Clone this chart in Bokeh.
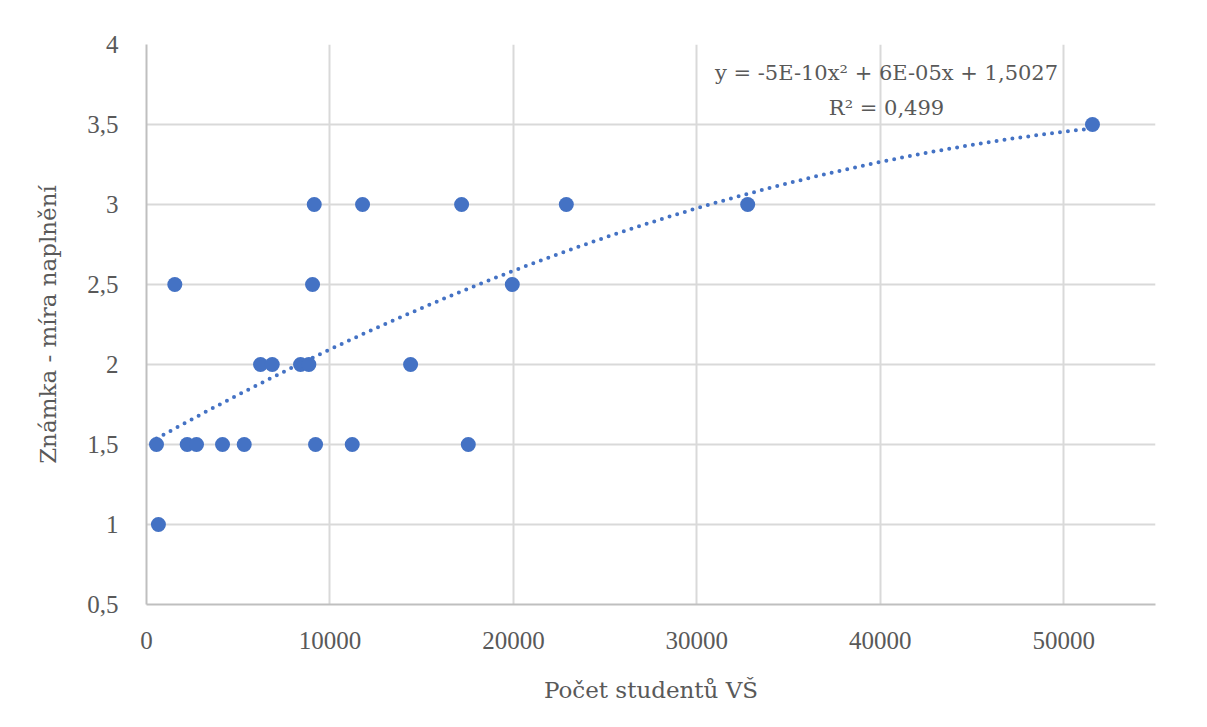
import numpy as np
from bokeh.plotting import figure
from bokeh.models import Range1d, FixedTicker, Label
from bokeh.embed import file_html
from bokeh.resources import INLINE

# --- data ---
students = [545, 2218, 2726, 4144, 5327, 9215, 11215, 17541,
            650,
            6216, 6854, 8397, 8850, 14395,
            9144, 11777, 17176, 22884, 32770,
            1543, 9051, 19940,
            51565]
grade = [1.5, 1.5, 1.5, 1.5, 1.5, 1.5, 1.5, 1.5,
         1.0,
         2.0, 2.0, 2.0, 2.0, 2.0,
         3.0, 3.0, 3.0, 3.0, 3.0,
         2.5, 2.5, 2.5,
         3.5]
x_ticks = [0, 10000, 20000, 30000, 40000, 50000]
x_tick_labels = ["0", "10000", "20000", "30000", "40000", "50000"]
y_ticks = [0.5, 1.0, 1.5, 2.0, 2.5, 3.0, 3.5, 4.0]
y_tick_labels = ["0,5", "1", "1,5", "2", "2,5", "3", "3,5", "4"]
x_title = "Počet studentů VŠ"
y_title = "Známka - míra naplnění"
eq_text = "y = -5E-10x² + 6E-05x + 1,5027"
r2_text = "R² = 0,499"

FONT = "DejaVu Serif"
TICK_FONT = "Liberation Serif"
TXT = "#595959"

p = figure(frame_width=1009, frame_height=560,
           min_border_left=146, min_border_right=44,
           min_border_top=44, min_border_bottom=115,
           x_range=Range1d(0, 55000), y_range=Range1d(0.5, 4),
           output_backend="svg", toolbar_location=None)
p.outline_line_color = None
p.background_fill_color = "white"
p.border_fill_color = "white"

for ax, ticks, labels in ((p.xaxis[0], x_ticks, x_tick_labels), (p.yaxis[0], y_ticks, y_tick_labels)):
    ax.ticker = FixedTicker(ticks=ticks)
    ax.major_label_overrides = {t: l for t, l in zip(ticks, labels)}
    ax.major_tick_line_color = None
    ax.minor_tick_line_color = None
    ax.major_tick_out = 0
    ax.major_tick_in = 0
    ax.axis_line_color = "#bfbfbf"
    ax.axis_line_width = 2
    ax.major_label_text_font = TICK_FONT
    ax.major_label_text_font_size = "25px"
    ax.major_label_text_color = TXT
    ax.axis_label_text_font = FONT
    ax.axis_label_text_font_size = "23px"
    ax.axis_label_text_color = TXT
    ax.axis_label_text_font_style = "normal"

p.xaxis.axis_label = x_title
p.yaxis.axis_label = y_title
p.xaxis.major_label_standoff = 27
p.xaxis.axis_label_standoff = 25
p.yaxis.major_label_standoff = 28
p.yaxis.axis_label_standoff = 23

p.xgrid.ticker = FixedTicker(ticks=x_ticks[1:])
p.ygrid.ticker = FixedTicker(ticks=y_ticks[1:])
for g in (p.xgrid[0], p.ygrid[0]):
    g.grid_line_color = "#d9d9d9"
    g.grid_line_width = 2

# polynomial trendline (order 2) from data
coef = np.polyfit(np.array(students, float), np.array(grade, float), 2)
xs = np.linspace(min(students), max(students), 400)
ys = np.polyval(coef, xs)
p.line(xs, ys, line_color="#4472C4", line_width=4, line_dash="0 8", line_cap="round")

p.scatter(students, grade, size=15, fill_color="#4472C4", line_color=None)

p.add_layout(Label(x=40337, y=3.825, text=eq_text, text_align="center", text_baseline="middle",
                   text_font=FONT, text_font_size="21px", text_color=TXT))
p.add_layout(Label(x=40337, y=3.606, text=r2_text, text_align="center", text_baseline="middle",
                   text_font=FONT, text_font_size="21px", text_color=TXT))

open("out.html", "w").write(file_html(p, INLINE))
